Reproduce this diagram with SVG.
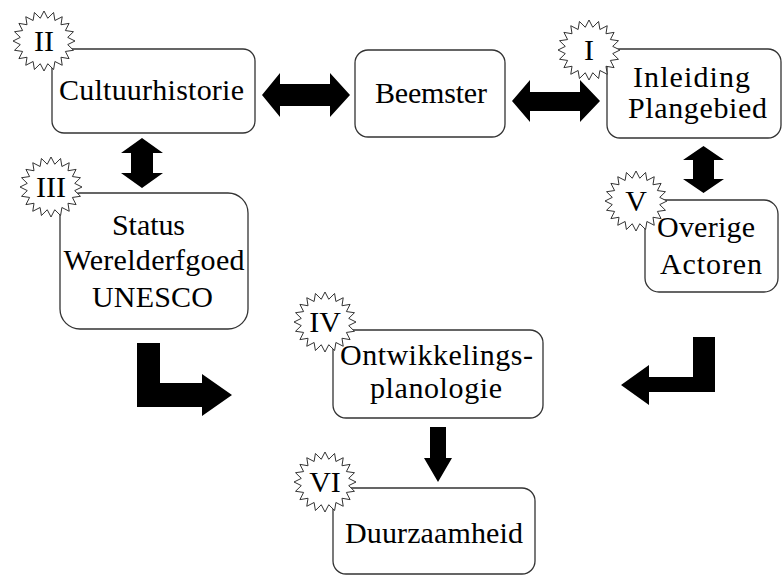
<svg xmlns="http://www.w3.org/2000/svg" xmlns:xlink="http://www.w3.org/1999/xlink" width="783" height="577" viewBox="0 0 783 577">
<style>
.box{fill:#fff;stroke:#333;stroke-width:1.3}
.star{fill:#fff;stroke:#333;stroke-width:1}
.arrow{fill:#000;stroke:none}
.t{font-family:'Liberation Serif',Tinos,'Times New Roman',Times,'DejaVu Serif',serif;font-size:30px;fill:#000;text-anchor:middle}
</style>
<defs>
<polygon id="star" points="0,-30 3.75,-22.72 9.58,-28.53 10.9,-20.49 18.22,-24.27 16.97,-16.26 25.08,-17.63 21.38,-10.44 29.48,-9.27 23.7,-3.6 31,0 23.7,3.6 29.48,9.27 21.38,10.44 25.08,17.63 16.97,16.26 18.22,24.27 10.9,20.49 9.58,28.53 3.75,22.72 0,30 -3.75,22.72 -9.58,28.53 -10.9,20.49 -18.22,24.27 -16.97,16.26 -25.08,17.63 -21.38,10.44 -29.48,9.27 -23.7,3.6 -31,0 -23.7,-3.6 -29.48,-9.27 -21.38,-10.44 -25.08,-17.63 -16.97,-16.26 -18.22,-24.27 -10.9,-20.49 -9.58,-28.53 -3.75,-22.72"/>
</defs>
<rect width="783" height="577" fill="#fff"/>
<g id="connectors">
<polygon class="arrow" points="262,95 280,73 280,84 330,84 330,73 350,95 330,117 330,106 280,106 280,117"/>
<polygon class="arrow" points="512,101 530,80 530,92 580,92 580,80 600,101 580,122 580,111 530,111 530,122"/>
<polygon class="arrow" points="142,138 163,153 153,153 153,173 163,173 142,188 121,173 131,173 131,153 121,153"/>
<polygon class="arrow" points="703.5,146 724,160 714,160 714,179 724,179 703.5,193 683,179 693,179 693,160 683,160"/>
<polygon class="arrow" points="137,343 160,343 160,383 202,383 202,374 232,395 202,416 202,407 137,407"/>
<polygon class="arrow" points="693,337 715,337 715,392 649,392 649,405 621,385 649,365 649,377 693,377"/>
<polygon class="arrow" points="430,427 446,427 446,458 452,458 438,482 424,458 430,458"/>
</g>
<g id="node-cultuurhistorie">
<rect class="box" x="52" y="49" width="203" height="84" rx="12" ry="12"/>
<text class="t" x="151.5" y="100" textLength="185">Cultuurhistorie</text>
<use xlink:href="#star" class="star" transform="translate(44,41)"/>
<text class="t" x="44" y="51">II</text>
</g>
<g id="node-beemster">
<rect class="box" x="355" y="50" width="150" height="87" rx="13" ry="13"/>
<text class="t" x="431" y="103" textLength="112">Beemster</text>
</g>
<g id="node-inleiding">
<rect class="box" x="607" y="49" width="174" height="89" rx="13" ry="13"/>
<text class="t" x="691.5" y="87" textLength="117">Inleiding</text>
<text class="t" x="697.5" y="118" textLength="139">Plangebied</text>
<use xlink:href="#star" class="star" transform="translate(589,50)"/>
<text class="t" x="589" y="60">I</text>
</g>
<g id="node-status">
<rect class="box" x="60" y="193" width="188" height="136" rx="20" ry="20"/>
<text class="t" x="148.5" y="235" textLength="73">Status</text>
<text class="t" x="154" y="270" textLength="181">Werelderfgoed</text>
<text class="t" x="152.5" y="307" textLength="121">UNESCO</text>
<use xlink:href="#star" class="star" transform="translate(51,187)"/>
<text class="t" x="51" y="197">III</text>
</g>
<g id="node-overige">
<rect class="box" x="645" y="200" width="133" height="92" rx="14" ry="14"/>
<text class="t" x="706" y="237" textLength="98">Overige</text>
<text class="t" x="711" y="274" textLength="102">Actoren</text>
<use xlink:href="#star" class="star" transform="translate(636,201)"/>
<text class="t" x="636" y="211">V</text>
</g>
<g id="node-ontwikkelings">
<rect class="box" x="333" y="330" width="210" height="88" rx="13" ry="13"/>
<text class="t" x="436.5" y="365" textLength="193">Ontwikkelings-</text>
<text class="t" x="436" y="398" textLength="132">planologie</text>
<use xlink:href="#star" class="star" transform="translate(325,322)"/>
<text class="t" x="325" y="332">IV</text>
</g>
<g id="node-duurzaamheid">
<rect class="box" x="333" y="488" width="202" height="86" rx="13" ry="13"/>
<text class="t" x="434" y="543" textLength="178">Duurzaamheid</text>
<use xlink:href="#star" class="star" transform="translate(325,482)"/>
<text class="t" x="325" y="492">VI</text>
</g>
</svg>
